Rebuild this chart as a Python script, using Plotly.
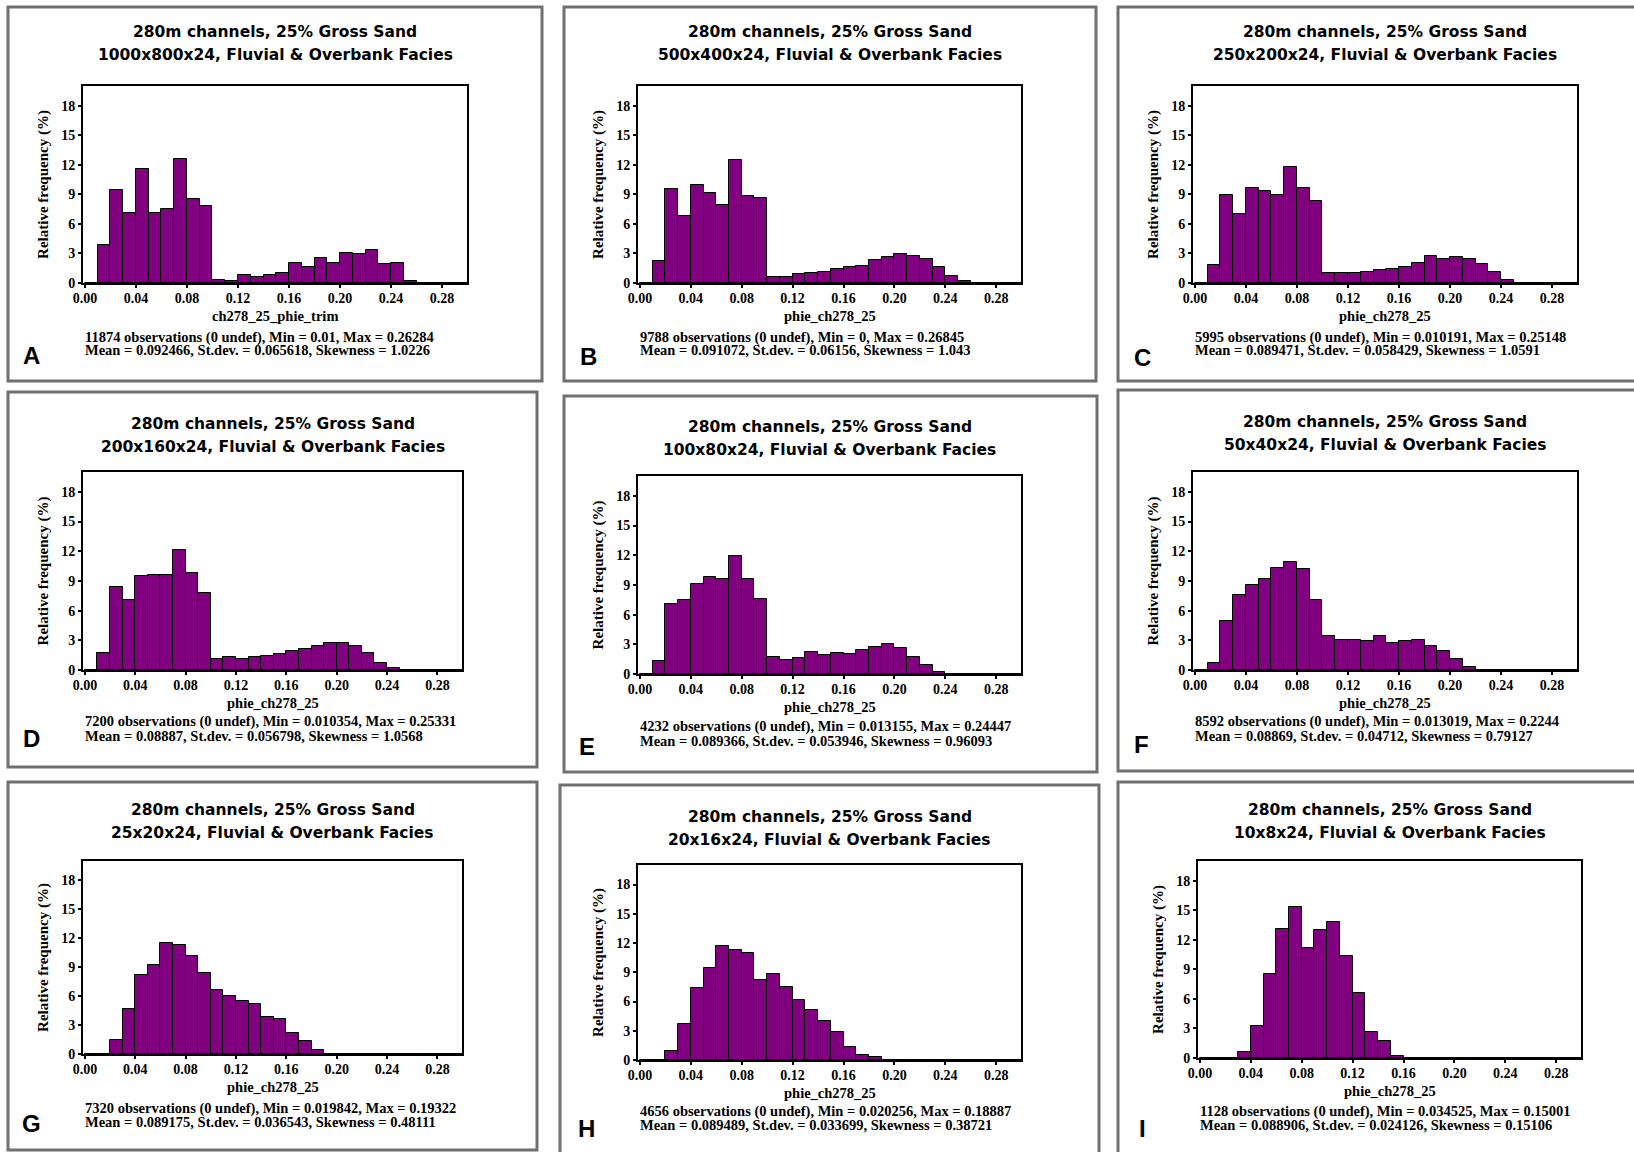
import plotly.graph_objects as go

# ---------------- data ----------------
bin_starts = [0.00, 0.01, 0.02, 0.03, 0.04, 0.05, 0.06, 0.07, 0.08, 0.09,
              0.10, 0.11, 0.12, 0.13, 0.14, 0.15, 0.16, 0.17, 0.18, 0.19,
              0.20, 0.21, 0.22, 0.23, 0.24, 0.25, 0.26, 0.27, 0.28, 0.29]
bin_width = 0.01

freq_A = [0, 3.9, 9.4, 7.1, 11.6, 7.1, 7.5, 12.6, 8.5, 7.8, 0.35, 0.17, 0.78, 0.6, 0.78,
          1.05, 2.05, 1.6, 2.5, 2.05, 3.0, 2.9, 3.3, 1.9, 2.0, 0.17, 0.03, 0, 0, 0]
freq_B = [0, 2.2, 9.5, 6.8, 9.9, 9.1, 7.9, 12.5, 8.8, 8.6, 0.6, 0.6, 0.9, 1.05, 1.15,
          1.45, 1.6, 1.75, 2.35, 2.6, 2.9, 2.75, 2.45, 1.6, 0.75, 0.17, 0.03, 0, 0, 0]
freq_C = [0, 1.8, 8.9, 7.05, 9.6, 9.35, 8.9, 11.8, 9.6, 8.35, 1.0, 1.0, 1.0, 1.15, 1.3,
          1.45, 1.6, 2.0, 2.75, 2.45, 2.6, 2.45, 1.9, 1.15, 0.3, 0, 0, 0, 0, 0]
freq_D = [0, 1.75, 8.35, 7.05, 9.5, 9.6, 9.6, 12.1, 9.75, 7.75, 1.15, 1.3, 1.15, 1.3, 1.45,
          1.6, 1.9, 2.15, 2.45, 2.75, 2.75, 2.45, 1.75, 0.75, 0.17, 0.05, 0, 0, 0, 0]
freq_E = [0, 1.3, 7.1, 7.5, 9.1, 9.8, 9.6, 11.9, 9.6, 7.6, 1.75, 1.45, 1.6, 2.2, 1.9,
          2.15, 2.0, 2.45, 2.75, 3.05, 2.6, 1.75, 0.9, 0.17, 0, 0, 0, 0, 0, 0]
freq_F = [0, 0.75, 5.0, 7.6, 8.6, 9.2, 10.3, 10.9, 10.2, 7.05, 3.45, 3.0, 3.0, 2.9, 3.45,
          2.75, 2.9, 3.0, 2.45, 1.9, 1.15, 0.3, 0, 0, 0, 0, 0, 0, 0, 0]
freq_G = [0, 0, 1.5, 4.65, 8.2, 9.2, 11.55, 11.3, 10.2, 8.35, 6.6, 6.0, 5.45, 5.15, 3.8,
          3.65, 2.2, 1.35, 0.45, 0.03, 0, 0, 0, 0, 0, 0, 0, 0, 0, 0]
freq_H = [0, 0, 0.9, 3.7, 7.35, 9.4, 11.7, 11.3, 11.0, 8.25, 8.8, 7.5, 6.15, 5.15, 4.0,
          2.85, 1.35, 0.5, 0.3, 0, 0, 0, 0, 0, 0, 0, 0, 0, 0, 0]
freq_I = [0, 0, 0, 0.65, 3.2, 8.5, 13.1, 15.35, 11.2, 13.0, 13.8, 10.4, 6.6, 2.65, 1.75,
          0.17, 0, 0, 0, 0, 0, 0, 0, 0, 0, 0, 0, 0, 0, 0]

panel_letters = ["A", "B", "C", "D", "E", "F", "G", "H", "I"]
grid_sizes = ["1000x800x24", "500x400x24", "250x200x24", "200x160x24", "100x80x24",
              "50x40x24", "25x20x24", "20x16x24", "10x8x24"]
title_line1 = "280m channels, 25% Gross Sand"
variable_names = ["ch278_25_phie_trim"] + ["phie_ch278_25"] * 8
stats_line1 = [
    "11874 observations (0 undef), Min = 0.01, Max = 0.26284",
    "9788 observations (0 undef), Min = 0, Max = 0.26845",
    "5995 observations (0 undef), Min = 0.010191, Max = 0.25148",
    "7200 observations (0 undef), Min = 0.010354, Max = 0.25331",
    "4232 observations (0 undef), Min = 0.013155, Max = 0.24447",
    "8592 observations (0 undef), Min = 0.013019, Max = 0.2244",
    "7320 observations (0 undef), Min = 0.019842, Max = 0.19322",
    "4656 observations (0 undef), Min = 0.020256, Max = 0.18887",
    "1128 observations (0 undef), Min = 0.034525, Max = 0.15001",
]
stats_line2 = [
    "Mean = 0.092466, St.dev. = 0.065618, Skewness = 1.0226",
    "Mean = 0.091072, St.dev. = 0.06156, Skewness = 1.043",
    "Mean = 0.089471, St.dev. = 0.058429, Skewness = 1.0591",
    "Mean = 0.08887, St.dev. = 0.056798, Skewness = 1.0568",
    "Mean = 0.089366, St.dev. = 0.053946, Skewness = 0.96093",
    "Mean = 0.08869, St.dev. = 0.04712, Skewness = 0.79127",
    "Mean = 0.089175, St.dev. = 0.036543, Skewness = 0.48111",
    "Mean = 0.089489, St.dev. = 0.033699, Skewness = 0.38721",
    "Mean = 0.088906, St.dev. = 0.024126, Skewness = 0.15106",
]
x_tick_vals = [0.00, 0.04, 0.08, 0.12, 0.16, 0.20, 0.24, 0.28]
x_tick_text = ["0.00", "0.04", "0.08", "0.12", "0.16", "0.20", "0.24", "0.28"]
y_tick_vals = [0, 3, 6, 9, 12, 15, 18]
all_freqs = [freq_A, freq_B, freq_C, freq_D, freq_E, freq_F, freq_G, freq_H, freq_I]

# ---------------- layout (pixel positions) ----------------
W, H = 1634, 1152
# plot area: x0, x1, y0(top), y1(bottom)
plot_boxes = [
    (83, 467, 86, 283), (638, 1021, 86, 283), (1193, 1577, 86, 283),
    (83, 462, 472, 670), (638, 1021, 476, 674), (1193, 1577, 472, 670),
    (83, 462, 861, 1054), (638, 1021, 865, 1060), (1198, 1581, 861, 1058),
]
# outer panel frames
panel_frames = [
    (8, 7, 542, 381), (564, 7, 1096, 381), (1118, 7, 1638, 381),
    (8, 392, 537, 767), (564, 396, 1097, 772), (1118, 390, 1638, 771),
    (8, 782, 537, 1150), (560, 785, 1099, 1160), (1118, 782, 1638, 1160),
]
title_y = [(32, 55), (32, 55), (32, 55), (424, 447), (427, 450), (422, 445),
           (810, 833), (817, 840), (810, 833)]
stats_y = [(337, 350), (337, 350), (337, 350), (721, 736), (726, 741), (721, 736),
           (1108, 1122), (1111, 1125), (1111, 1125)]
letter_pos = [(31, 355), (588, 357), (1142, 358), (31, 738), (587, 746), (1141, 744),
              (32, 1123), (586, 1128), (1142, 1128)]


def px(x):
    return x / W


def py(y):
    return 1 - y / H


fig = go.Figure()
annotations = []
shapes = []
serif_bold = dict(family="Liberation Serif, Times New Roman, serif", color="black", weight="bold")
sans_bold = dict(family="DejaVu Sans, Verdana, sans-serif", color="black", weight="bold")

layout_axes = {}
for i in range(9):
    k = "" if i == 0 else str(i + 1)
    x0, x1, y0, y1 = plot_boxes[i]
    fig.add_trace(go.Bar(
        x=bin_starts, y=all_freqs[i], width=bin_width, offset=0,
        marker=dict(color="#800080", line=dict(color="black", width=1)),
        xaxis="x" + k, yaxis="y" + k, showlegend=False,
        hovertemplate="%{x:.2f}: %{y}%<extra></extra>",
    ))
    layout_axes["xaxis" + k] = dict(
        domain=[px(x0), px(x1)], anchor="y" + k, range=[-0.0015, 0.2995],
        tickvals=x_tick_vals, ticktext=x_tick_text, ticks="outside", ticklen=3,
        tickwidth=1.5, tickcolor="black", showline=True, linecolor="black", linewidth=2,
        mirror=True, showgrid=False, zeroline=False, automargin=False,
        tickfont=dict(size=14, **serif_bold), ticklabelstandoff=-2,
    )
    layout_axes["yaxis" + k] = dict(
        domain=[py(y1), py(y0)], anchor="x" + k, range=[0, 20],
        tickvals=y_tick_vals, ticks="outside", ticklen=3, tickwidth=1.5, tickcolor="black",
        showline=True, linecolor="black", linewidth=2, mirror=True, showgrid=False,
        zeroline=False, automargin=False, tickfont=dict(size=14, **serif_bold),
        title=dict(text="Relative frequency (%)", font=dict(size=15, **serif_bold), standoff=9),
    )
    cx = (x0 + x1) / 2
    # x-axis title
    annotations.append(dict(x=px(cx), y=py(y1 + 23), xref="paper", yref="paper",
                            text=variable_names[i], showarrow=False, xanchor="center",
                            yanchor="top", font=dict(size=14.5, **serif_bold)))
    annotations.append(dict(x=px(cx), y=py(title_y[i][0]), xref="paper", yref="paper",
                            text=title_line1, showarrow=False, xanchor="center",
                            yanchor="middle", font=dict(size=15.5, **sans_bold)))
    annotations.append(dict(x=px(cx), y=py(title_y[i][1]), xref="paper", yref="paper",
                            text=grid_sizes[i] + ", Fluvial & Overbank Facies",
                            showarrow=False, xanchor="center", yanchor="middle",
                            font=dict(size=15.5, **sans_bold)))
    for line_text, ly in zip([stats_line1[i], stats_line2[i]], stats_y[i]):
        annotations.append(dict(x=px(x0), y=py(ly), xref="paper", yref="paper",
                                text=line_text, showarrow=False, xanchor="left",
                                yanchor="middle", font=dict(size=14.5, **serif_bold)))
    lx, ly = letter_pos[i]
    annotations.append(dict(x=px(lx), y=py(ly), xref="paper", yref="paper",
                            text=panel_letters[i], showarrow=False, xanchor="center",
                            yanchor="middle",
                            font=dict(size=24, family="Liberation Sans, Arial, sans-serif",
                                      color="black", weight="bold")))
    fx0, fy0, fx1, fy1 = panel_frames[i]
    shapes.append(dict(type="rect", xref="paper", yref="paper",
                       x0=px(fx0), x1=px(fx1), y0=py(fy1), y1=py(fy0),
                       line=dict(color="#707070", width=3), fillcolor="rgba(0,0,0,0)",
                       layer="below"))

fig.update_layout(
    width=W, height=H, margin=dict(l=0, r=0, t=0, b=0, pad=0), autosize=False,
    paper_bgcolor="white", plot_bgcolor="white",
    annotations=annotations, shapes=shapes, bargap=0,
    **layout_axes,
)
fig.write_html(
    "out.html",
    config={"displayModeBar": False},
    post_script=(
        "document.body.style.margin='0px';document.body.style.padding='0px';"
        "document.body.style.overflow='hidden';"
        "var d=document.getElementById('{plot_id}');"
        "d.style.position='absolute';d.style.left='0px';d.style.top='0px';"
    ),
)
